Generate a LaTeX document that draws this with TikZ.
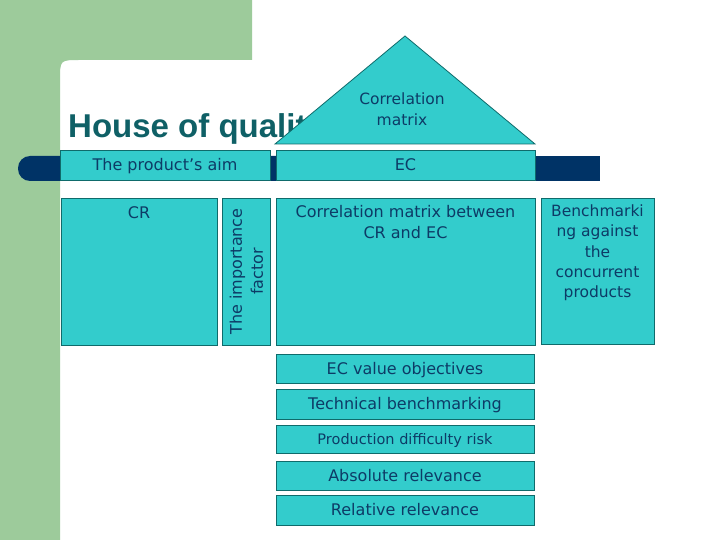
\documentclass[tikz,border=0pt]{standalone}
\usepackage{fontspec}
\setmainfont{DejaVu Sans}
\newfontfamily\titlefont{Liberation Sans}
\definecolor{bggreen}{HTML}{9DCB9B}
\definecolor{barblue}{HTML}{003366}
\definecolor{boxfill}{HTML}{33CCCC}
\definecolor{boxline}{HTML}{0F6B6B}
\definecolor{boxtext}{HTML}{0D3B66}
\definecolor{titleteal}{HTML}{0F6066}

\begin{document}
\begin{tikzpicture}[x=1pt, y=-1pt,
    hqbox/.style={draw=boxline, fill=boxfill, text=boxtext, line width=0.8pt, inner sep=0pt, align=center, text height=12pt, text depth=0.5pt, font=\fontsize{16}{20}\selectfont},
    toptext/.style={text=boxtext, anchor=north, align=center, inner sep=0pt, font=\fontsize{16}{20.5}\selectfont}]
    \useasboundingbox (0,0) rectangle (720,540);
    % background
    \fill[white] (0,0) rectangle (720,540);
    \fill[bggreen] (0,0) -- (252,0) -- (252,60) -- (80,60) .. controls (60,60) .. (60,80) -- (60,540) -- (0,540) -- cycle;
    \fill[barblue, rounded corners=12pt] (18,156) rectangle (300,181);
    \fill[barblue] (100,156) rectangle (600,181);

    \node[anchor=base west, inner sep=0pt, text=titleteal, font=\titlefont\bfseries\fontsize{33}{36}\selectfont] (title) at (68,138) {House of quality};

    % roof
    \filldraw[fill=boxfill, draw=boxline, line width=0.8pt] (275,144) -- (405,36) -- (535,144) -- cycle;
    \node[text=boxtext, align=center, font=\fontsize{15.5}{21}\selectfont] (roof) at (402,109) {Correlation\\matrix};

    % header row
    \node[hqbox, minimum width=210, minimum height=30] (aim) at (165,165) {The product's aim};
    \node[hqbox, minimum width=259, minimum height=30] (ec) at (405.5,165) {EC};

    % main rows
    \node[hqbox, minimum width=156, minimum height=147] (cr) at (139,271.5) {};
    \node[toptext] at ([yshift=-9pt]cr.north) {CR};
    \node[hqbox, minimum width=48, minimum height=147] (imp) at (246,271.5) {};
    \node[rotate=90, text=boxtext, align=center, inner sep=0pt, font=\fontsize{16}{21}\selectfont] at ([xshift=0.5pt]imp.center) {The importance\\factor};
    \node[hqbox, minimum width=259, minimum height=147] (corrmat) at (405.5,271.5) {};
    \node[toptext] at ([yshift=-8pt]corrmat.north) {Correlation matrix between\\CR and EC};
    \node[hqbox, minimum width=113, minimum height=146] (bench) at (597.5,271) {};
    \node[toptext, font=\fontsize{15.5}{20.3}\selectfont] at ([yshift=-7pt]bench.north) {Benchmarki\\ng against\\the\\concurrent\\products};

    % basement
    \node[hqbox, minimum width=258, minimum height=29] (evo) at (405,368.5) {EC value objectives};
    \node[hqbox, minimum width=258, minimum height=30] (tb) at (405,404) {Technical benchmarking};
    \node[hqbox, minimum width=258, minimum height=28, font=\fontsize{14.5}{16}\selectfont] (pdr) at (405,439) {Production difficulty risk};
    \node[hqbox, minimum width=258, minimum height=29] (absrel) at (405,475.5) {Absolute relevance};
    \node[hqbox, minimum width=258, minimum height=30] (relrel) at (405,510) {Relative relevance};
\end{tikzpicture}
\end{document}
